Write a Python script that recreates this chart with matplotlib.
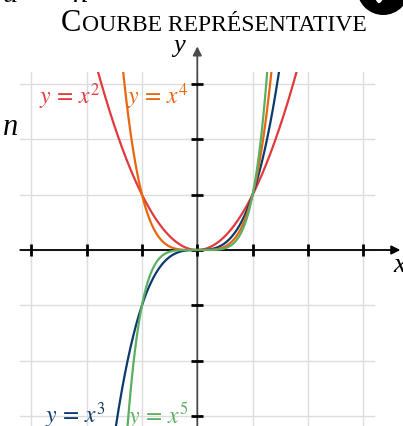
import numpy as np
import matplotlib
matplotlib.use("Agg")
import matplotlib.pyplot as plt
from matplotlib.patches import Rectangle, Circle, FancyArrowPatch

plt.rcParams['mathtext.fontset'] = 'stix'

# ---- data ----
exponents = [2, 3, 4, 5]
curve_labels = [r'$y\,=\,x^2$', r'$y\,=\,x^3$', r'$y\,=\,x^4$', r'$y\,=\,x^5$']
curve_colors = ['#e03a3c', '#0d3a6c', '#e8660e', '#5cae62']
label_pos = [(-2.86, 2.78), (-2.75, -2.97), (-1.27, 2.78), (-1.25, -2.97)]
x_ticks = [-3, -2, -1, 0, 1, 2, 3]
y_ticks = [-3, -2, -1, 0, 1, 2, 3]
title_first = 'C'
title_rest = 'OURBE REPRÉSENTATIVE'

W, H = 403, 427
ox, oy, unit = 197.3, 251.0, 55.33
fig = plt.figure(figsize=(W / 100, H / 100), dpi=100)
ax = fig.add_axes([0, 0, 1, 1])
ax.set_xlim(-ox / unit, (W - ox) / unit)
ax.set_ylim((oy - H) / unit, oy / unit)
ax.axis('off')

lim = 3.2
top = 3.22
# grid
for t in x_ticks:
    ax.plot([t, t], [-lim, top], color='#dcdcdc', lw=1.0, zorder=1)
for t in y_ticks:
    ax.plot([-lim, lim], [t, t], color='#dcdcdc', lw=1.0, zorder=1)

# axes with arrows
ax.add_patch(FancyArrowPatch((-lim, 0), (3.67, 0), arrowstyle='-|>', mutation_scale=13,
                             color='black', lw=1.3, zorder=3, shrinkA=0, shrinkB=0))
ax.add_patch(FancyArrowPatch((0, -3.3), (0, 3.68), arrowstyle='-|>', mutation_scale=13,
                             color='#4a4a4a', lw=1.3, zorder=3, shrinkA=0, shrinkB=0))
ax.plot(x_ticks, [0] * len(x_ticks), ls='none', marker='|', ms=8, mew=2, color='black', zorder=4)
ax.plot([0] * len(y_ticks), y_ticks, ls='none', marker='_', ms=8, mew=2, color='black', zorder=4)

# curves
clip = Rectangle((-lim, -lim), 2 * lim, lim + top, transform=ax.transData)
xs = np.linspace(-lim, lim, 2001)
for n, c in zip(exponents, curve_colors):
    ln, = ax.plot(xs, xs ** n, color=c, lw=1.6, zorder=5)
    ln.set_clip_path(clip)

for lab, c, (px, py) in zip(curve_labels, curve_colors, label_pos):
    ax.text(px, py, lab, color=c, fontsize=17, ha='left', va='center', zorder=6)

# axis labels
ax.text(-0.33, 3.70, 'y', fontsize=19, family='Liberation Serif', style='italic', ha='center', va='center')
ax.text(3.54, -0.27, 'x', fontsize=20, family='Liberation Serif', style='italic', ha='left', va='center')
ax.text(-3.52, 2.23, 'n', fontsize=22, family='Liberation Serif', style='italic', ha='left', va='center')
# cut-off fragments at top-left
ax.text(-3.52, 4.50, 'u', fontsize=22, family='Liberation Serif', style='italic', ha='left', va='baseline')
ax.text(-2.25, 4.50, 'n', fontsize=22, family='Liberation Serif', style='italic', ha='left', va='baseline')

# badge top-right
ax.add_patch(Circle((3.36, 4.72), 0.46, color='black', zorder=7))
ax.plot([3.157, 3.284, 3.519], [4.68, 4.50, 4.79], color='white', lw=3, zorder=8,
        solid_capstyle='round', solid_joinstyle='round')

# title in small caps
fig.canvas.draw()
r = fig.canvas.get_renderer()
t1 = ax.text(0, 0, title_first, fontsize=22, family='Liberation Serif', ha='left', va='baseline')
t2 = ax.text(0, 0, title_rest, fontsize=17, family='Liberation Serif', ha='left', va='baseline')
w1 = t1.get_window_extent(r).width
w2 = t2.get_window_extent(r).width
total = w1 + w2 + 1
cx_px = 214
base_px_from_top = 31
x0 = cx_px - total / 2
inv = ax.transData.inverted()
p1 = inv.transform((x0, H - base_px_from_top))
p2 = inv.transform((x0 + w1 + 1, H - base_px_from_top))
t1.set_position(p1)
t2.set_position(p2)

fig.savefig('out.png', dpi=100)
